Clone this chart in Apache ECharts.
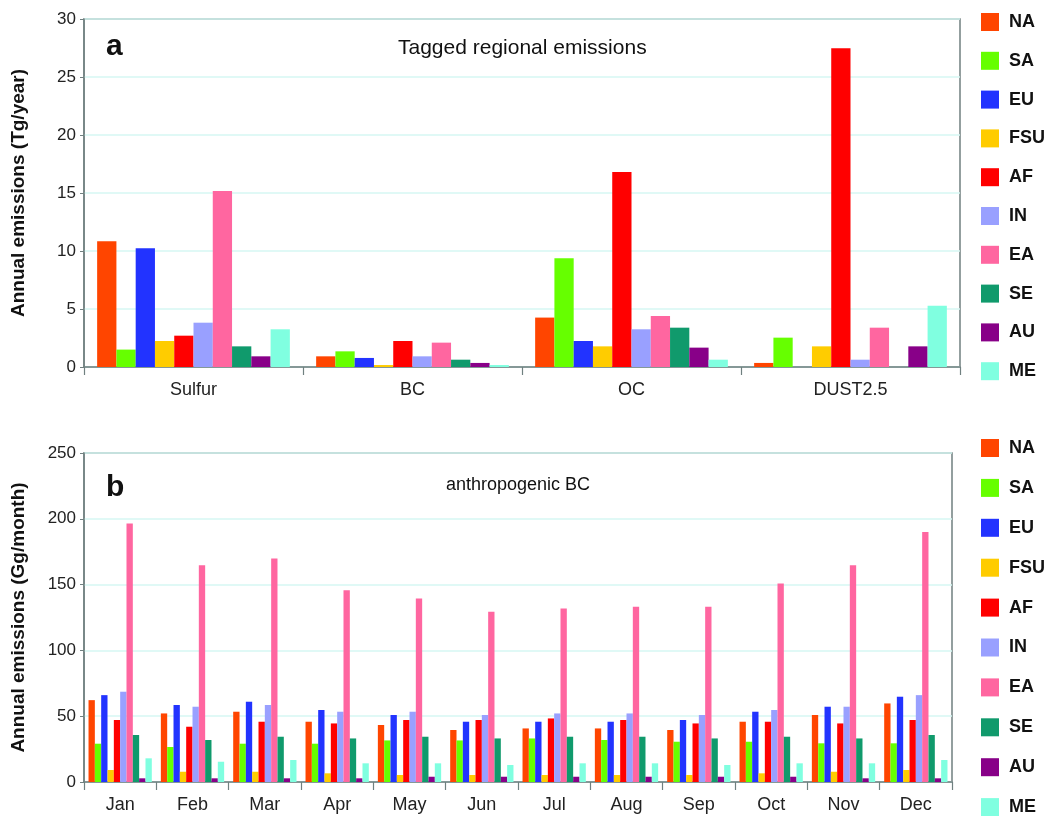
<!DOCTYPE html>
<html><head><meta charset="utf-8">
<script src="https://cdn.jsdelivr.net/npm/echarts@6/dist/echarts.min.js"></script>
<style>html,body{margin:0;padding:0;background:#fff}#c{width:1048px;height:816px}</style>
</head><body><div id="c"></div>
<script>
const regions = ['NA','SA','EU','FSU','AF','IN','EA','SE','AU','ME'];
const colors = ['#FF4500','#66FF00','#2233FF','#FFCC00','#FF0000','#99A0FF','#FF66A0','#109A6C','#880088','#80FFE0'];
const speciesCats = ['Sulfur','BC','OC','DUST2.5'];
const monthCats = ['Jan','Feb','Mar','Apr','May','Jun','Jul','Aug','Sep','Oct','Nov','Dec'];
// panel a: annual emissions (Tg/year), per region over species
const aNA  = [10.84, 0.92, 4.26, 0.35];
const aSA  = [1.5, 1.35, 9.38, 2.53];
const aEU  = [10.24, 0.78, 2.24, 0];
const aFSU = [2.24, 0.17, 1.78, 1.78];
const aAF  = [2.7, 2.24, 16.8, 27.47];
const aIN  = [3.82, 0.92, 3.25, 0.63];
const aEA  = [15.18, 2.1, 4.4, 3.39];
const aSE  = [1.78, 0.63, 3.39, 0];
const aAU  = [0.92, 0.35, 1.67, 1.78];
const aME  = [3.25, 0.17, 0.63, 5.29];
// panel b: anthropogenic BC (Gg/month), per region over months
const bNA  = [62.2, 52.1, 53.4, 45.8, 43.3, 39.5, 40.7, 40.7, 39.5, 45.8, 50.9, 59.7];
const bSA  = [29.1, 26.6, 29.1, 29.1, 31.6, 31.6, 33.1, 31.9, 30.6, 30.6, 29.4, 29.4];
const bEU  = [66, 58.5, 61, 54.7, 50.9, 45.8, 45.8, 45.8, 47.1, 53.4, 57.2, 64.8];
const bFSU = [9.1, 7.8, 7.8, 6.6, 5.3, 5.3, 5.3, 5.3, 5.3, 6.6, 7.8, 9.1];
const bAF  = [47.1, 42, 45.8, 44.5, 47.1, 47.1, 48.3, 47.1, 44.5, 45.8, 44.5, 47.1];
const bIN  = [68.6, 57.2, 58.5, 53.4, 53.4, 50.9, 52.1, 52.1, 50.9, 54.7, 57.2, 66];
const bEA  = [196.4, 164.7, 169.8, 145.7, 139.4, 129.3, 131.8, 133.1, 133.1, 150.8, 164.7, 190];
const bSE  = [35.7, 31.9, 34.4, 33.1, 34.4, 33.1, 34.4, 34.4, 33.1, 34.4, 33.1, 35.7];
const bAU  = [2.8, 2.8, 2.8, 2.8, 4, 4, 4, 4, 4, 4, 2.8, 2.8];
const bME  = [18, 15.4, 16.7, 14.2, 14.2, 12.9, 14.2, 14.2, 12.9, 14.2, 14.2, 16.7];

const aData = [aNA,aSA,aEU,aFSU,aAF,aIN,aEA,aSE,aAU,aME];
const bData = [bNA,bSA,bEU,bFSU,bAF,bIN,bEA,bSE,bAU,bME];

const FONT = 'Liberation Sans, Arial, sans-serif';
const axisGrey = '#708080';
const gridCol = '#d6f7f3';

function xAxis(gi, cats){
  return {type:'category', gridIndex:gi, data:cats, boundaryGap:true,
    axisLine:{lineStyle:{color:axisGrey,width:1.5}},
    axisTick:{show:true, length:8, lineStyle:{color:axisGrey,width:1.2}},
    axisLabel:{color:'#222', fontSize:18, fontFamily:FONT, margin:14}};
}
function yAxis(gi, max, interval, name){
  return {type:'value', gridIndex:gi, min:0, max:max, interval:interval,
    name:name, nameLocation:'middle', nameGap:56, nameRotate:90,
    nameTextStyle:{color:'#111', fontSize:19, fontWeight:'bold', fontFamily:FONT},
    axisLine:{show:true, lineStyle:{color:axisGrey,width:1.5}},
    axisTick:{show:true, length:4, lineStyle:{color:axisGrey}},
    axisLabel:{color:'#222', fontSize:17, fontFamily:FONT, margin:8},
    splitLine:{show:true, lineStyle:{color:gridCol, width:1.5}}};
}
const series = [];
regions.forEach((r,i)=>{
  series.push({name:r, type:'bar', xAxisIndex:0, yAxisIndex:0, data:aData[i],
    itemStyle:{color:colors[i]}, barGap:'0%', barCategoryGap:'12%', animation:false});
});
regions.forEach((r,i)=>{
  series.push({name:r, type:'bar', xAxisIndex:1, yAxisIndex:1, data:bData[i],
    itemStyle:{color:colors[i]}, barGap:'0%', barCategoryGap:'12.5%', animation:false});
});
function legend(top, gap){
  return {type:'plain', orient:'vertical', left:981, top:top, height:420, padding:0,
    itemWidth:18, itemHeight:18, itemGap:gap,
    icon:'rect', selectedMode:false, data:regions,
    textStyle:{color:'#111', fontSize:18, fontWeight:'bold', fontFamily:FONT, lineHeight:18, padding:[0,0,0,5]}};
}
const option = {
  backgroundColor:'#fff',
  animation:false,
  title:[
    {text:'a', left:101, top:27, textStyle:{fontSize:30, fontWeight:'bold', color:'#111', fontFamily:FONT}},
    {text:'Tagged regional emissions', left:393, top:33, textStyle:{fontSize:21, fontWeight:'normal', color:'#111', fontFamily:FONT}},
    {text:'b', left:101, top:468, textStyle:{fontSize:30, fontWeight:'bold', color:'#111', fontFamily:FONT}},
    {text:'anthropogenic BC', left:441, top:471, textStyle:{fontSize:18, fontWeight:'normal', color:'#111', fontFamily:FONT}}
  ],
  legend:[legend(13, 20.8), legend(439, 21.9)],
  grid:[
    {left:84, top:19, width:876, height:348, show:true, borderColor:axisGrey, borderWidth:1.5, backgroundColor:'transparent'},
    {left:84, top:453, width:868, height:329, show:true, borderColor:axisGrey, borderWidth:1.5, backgroundColor:'transparent'}
  ],
  xAxis:[xAxis(0, speciesCats), xAxis(1, monthCats)],
  yAxis:[yAxis(0, 30, 5, 'Annual emissions (Tg/year)'), yAxis(1, 250, 50, 'Annual emissions (Gg/month)')],
  series:series
};
const chart = echarts.init(document.getElementById('c'), null, {renderer:'canvas'});
chart.setOption(option);
</script></body></html>
